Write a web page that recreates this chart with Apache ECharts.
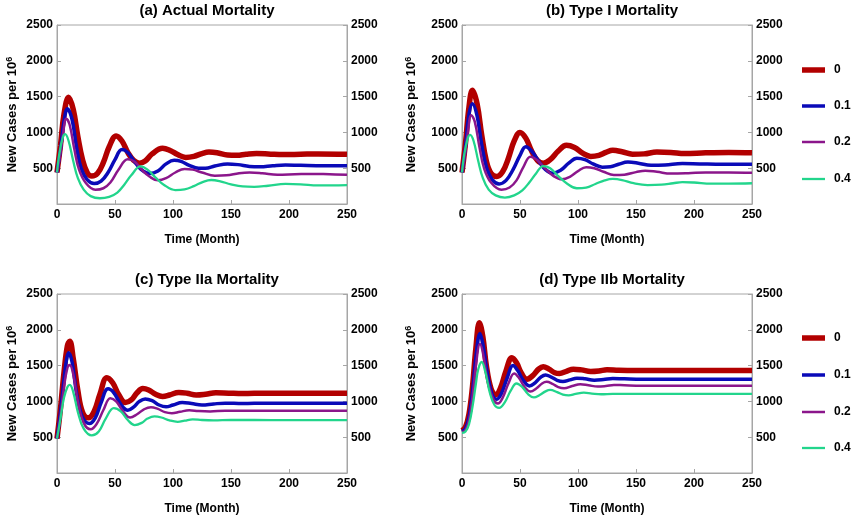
<!DOCTYPE html>
<html>
<head>
<meta charset="utf-8">
<script src="https://cdn.jsdelivr.net/npm/echarts@6/dist/echarts.min.js"></script>
<style>
  html, body { margin: 0; padding: 0; background: #fff; }
  #main { width: 852px; height: 516px; }
</style>
</head>
<body>
<div id="main"></div>
<script>
// series names (mortality fraction) and styles
const names = ['0', '0.1', '0.2', '0.4']
const colors = ['#b20000', '#0a0ab8', '#8b168b', '#22d58c']
const widths = [5.5, 3.5, 2.5, 2.3]
const titles = ['(a) Actual Mortality', '(b) Type I Mortality', '(c) Type IIa Mortality', '(d) Type IIb Mortality']
const xTicks = [0, 50, 100, 150, 200, 250]
const yTicks = [0, 500, 1000, 1500, 2000, 2500]

// (a) actual mortality: [month, new cases per 10^6]
const actual0 = [[0,440],[3,820],[6,1250],[10,1490],[14,1320],[18,940],[22,620],[26,440],[30,390],[35,430],[40,580],[45,800],[51,950],[56,880],[61,720],[66,610],[71,570],[76,600],[82,700],[91,780],[98,745],[104,690],[111,650],[118,665],[125,705],[131,725],[138,715],[147,685],[155,680],[163,695],[172,705],[182,700],[195,690],[210,695],[225,700],[250,695]]
const actual1 = [[0,440],[3,760],[6,1150],[9,1330],[13,1180],[17,780],[21,490],[26,340],[32,285],[38,320],[44,440],[50,620],[56,760],[61,720],[66,610],[72,490],[80,425],[87,460],[94,560],[101,610],[107,595],[114,540],[122,500],[128,500],[136,530],[147,560],[156,550],[166,525],[175,520],[186,535],[197,545],[210,540],[230,535],[250,535]]
const actual2 = [[0,440],[3,720],[5,960],[8,1190],[11,1100],[15,760],[19,480],[25,290],[33,200],[40,220],[46,300],[53,480],[61,625],[67,590],[73,480],[80,380],[87,330],[94,360],[102,440],[110,490],[117,480],[125,440],[136,395],[146,400],[157,430],[166,440],[177,430],[190,410],[205,415],[220,420],[235,415],[250,410]]
const actual4 = [[0,440],[2,700],[5,930],[7,975],[10,880],[14,600],[18,360],[23,200],[29,110],[37,80],[45,100],[52,160],[58,270],[64,400],[72,525],[78,480],[85,370],[92,270],[102,195],[110,205],[118,250],[126,310],[133,335],[140,320],[150,275],[160,245],[170,240],[182,255],[197,280],[210,275],[225,260],[250,265]]

// (b) type I mortality
const typeI0 = [[0,440],[3,850],[6,1350],[9,1590],[13,1400],[17,960],[21,600],[25,430],[30,385],[35,450],[40,640],[45,880],[50,1000],[55,920],[60,740],[65,610],[70,570],[76,620],[83,740],[90,820],[97,790],[104,710],[111,665],[118,680],[124,720],[130,750],[138,730],[147,695],[157,700],[168,725],[180,720],[192,705],[210,715],[230,720],[250,715]]
const typeI1 = [[0,440],[3,800],[6,1250],[9,1400],[13,1230],[17,830],[21,520],[26,340],[32,280],[38,330],[44,480],[50,680],[55,800],[60,740],[66,600],[72,480],[78,430],[85,470],[92,570],[99,640],[106,620],[113,560],[121,515],[128,520],[135,555],[143,585],[152,570],[163,540],[175,545],[190,565],[205,560],[225,555],[250,555]]
const typeI2 = [[0,440],[3,740],[5,1000],[8,1240],[11,1150],[15,800],[19,500],[25,300],[34,200],[41,230],[47,330],[53,520],[59,660],[65,610],[72,490],[79,390],[86,345],[93,380],[100,460],[107,515],[114,500],[122,450],[131,405],[140,410],[150,445],[158,465],[168,450],[180,425],[195,430],[210,440],[230,440],[250,435]]
const typeI4 = [[0,440],[2,700],[5,920],[7,965],[10,880],[14,600],[18,360],[23,200],[29,120],[37,90],[45,120],[52,190],[58,300],[64,430],[70,530],[76,500],[83,390],[91,280],[99,220],[107,230],[115,280],[123,330],[130,350],[138,335],[148,290],[160,265],[172,270],[182,290],[190,305],[200,300],[215,285],[230,285],[250,290]]

// (c) type IIa mortality
const typeIIa0 = [[0,480],[3,900],[6,1400],[9,1780],[11,1840],[14,1600],[18,1150],[22,850],[27,770],[32,860],[37,1100],[43,1330],[48,1260],[53,1100],[59,985],[64,1020],[69,1120],[74,1180],[79,1160],[85,1100],[91,1070],[97,1090],[105,1125],[112,1115],[120,1090],[128,1100],[137,1120],[148,1115],[160,1110],[180,1115],[200,1115],[225,1115],[250,1115]]
const typeIIa1 = [[0,480],[3,850],[6,1300],[8,1560],[10,1680],[13,1550],[17,1100],[22,780],[28,690],[33,770],[38,980],[44,1175],[49,1120],[55,960],[61,875],[66,920],[71,1000],[76,1035],[82,1010],[88,950],[94,925],[100,950],[108,985],[116,970],[125,950],[135,965],[145,975],[160,970],[180,975],[200,975],[225,975],[250,975]]
const typeIIa2 = [[0,480],[3,800],[6,1200],[9,1470],[11,1510],[14,1380],[18,1000],[23,700],[29,610],[34,680],[40,880],[46,1045],[51,1000],[57,860],[63,775],[69,820],[75,890],[81,920],[87,895],[93,850],[99,835],[106,855],[114,875],[122,865],[132,860],[145,870],[160,870],[180,870],[200,868],[225,868],[250,868]]
const typeIIa4 = [[0,480],[3,760],[6,1050],[9,1200],[11,1230],[14,1130],[18,850],[23,620],[30,525],[36,580],[42,760],[49,905],[55,860],[61,740],[67,670],[73,700],[78,760],[84,790],[90,775],[97,735],[104,715],[110,730],[117,750],[125,740],[135,735],[150,740],[170,740],[200,738],[225,738],[250,738]]

// (d) type IIb mortality
const typeIIb0 = [[0,590],[3,640],[6,820],[9,1200],[12,1750],[15,2100],[18,1900],[21,1500],[25,1180],[29,1090],[33,1180],[38,1430],[43,1610],[47,1540],[51,1400],[56,1310],[61,1360],[66,1450],[70,1485],[75,1450],[80,1400],[84,1390],[90,1420],[96,1450],[103,1440],[111,1418],[118,1425],[125,1442],[135,1435],[150,1432],[175,1432],[200,1432],[225,1432],[250,1432]]
const typeIIb1 = [[0,580],[3,620],[6,780],[9,1130],[12,1620],[15.5,1950],[18,1800],[22,1380],[26,1100],[30,1030],[34,1110],[39,1330],[44,1500],[48,1430],[53,1290],[58,1215],[63,1260],[68,1340],[72,1370],[77,1340],[82,1295],[87,1278],[93,1300],[99,1325],[106,1315],[114,1296],[122,1305],[130,1320],[140,1315],[155,1310],[175,1310],[200,1310],[225,1310],[250,1310]]
const typeIIb2 = [[0,570],[3,600],[6,740],[9,1060],[12,1500],[15.5,1800],[18,1680],[22,1300],[27,1030],[31,970],[35,1050],[40,1250],[45,1390],[49,1330],[54,1200],[59,1137],[64,1180],[69,1250],[73,1273],[78,1245],[83,1200],[88,1184],[95,1215],[102,1240],[109,1225],[117,1207],[124,1215],[131,1230],[140,1225],[155,1220],[175,1220],[200,1220],[225,1220],[250,1220]]
const typeIIb4 = [[0,560],[3,580],[6,680],[9,920],[12,1250],[14,1450],[17,1550],[20,1420],[24,1120],[28,950],[32,910],[37,990],[42,1150],[47,1250],[52,1200],[57,1100],[62,1055],[67,1090],[72,1140],[76,1160],[82,1130],[87,1095],[92,1085],[98,1105],[105,1123],[112,1110],[120,1100],[130,1105],[145,1105],[170,1105],[200,1105],[225,1105],[250,1105]]

const panels = [
  [actual0, actual1, actual2, actual4],
  [typeI0, typeI1, typeI2, typeI4],
  [typeIIa0, typeIIa1, typeIIa2, typeIIa4],
  [typeIIb0, typeIIb1, typeIIb2, typeIIb4]
]

const font = 'Liberation Sans, Arial, sans-serif'
const frame = '#a6a6a6'
// grid boxes: left, top
const boxes = [[57, 25], [462, 25], [57, 294], [462, 294]]
const W = 290, H = 179

const grids = [], xAxes = [], yAxes = [], series = [], titleList = []

boxes.forEach(([l, t], i) => {
  grids.push({ left: l, top: t, width: W, height: H, show: true, borderColor: frame, borderWidth: 1 })
  titleList.push({
    text: titles[i], left: l + W / 2, top: t - 27, textAlign: 'center',
    textStyle: { fontFamily: font, fontWeight: 'bold', fontSize: 15, color: '#000' }
  })
  xAxes.push({
    type: 'value', gridIndex: i, min: xTicks[0], max: xTicks[xTicks.length - 1], interval: 50,
    name: 'Time (Month)', nameLocation: 'middle', nameGap: 30,
    nameTextStyle: { fontFamily: font, fontWeight: 'bold', fontSize: 12, color: '#000' },
    axisLine: { lineStyle: { color: frame } },
    axisTick: { inside: true, length: 4, lineStyle: { color: frame } },
    axisLabel: { fontFamily: font, fontWeight: 'bold', fontSize: 12, color: '#000', margin: 5 },
    splitLine: { show: false }
  })
  const yBase = {
    type: 'value', gridIndex: i, min: yTicks[0], max: yTicks[yTicks.length - 1], interval: 500,
    axisLine: { show: true, lineStyle: { color: frame } },
    axisTick: { show: true, inside: true, length: 4, lineStyle: { color: frame } },
    axisLabel: {
      fontFamily: font, fontWeight: 'bold', fontSize: 12, color: '#000', margin: 4,
      formatter: v => (v === 0 ? '' : String(v))
    },
    splitLine: { show: false }
  }
  yAxes.push(Object.assign({}, yBase, {
    position: 'left',
    name: 'New Cases per 10{sup|6}', nameLocation: 'middle', nameGap: i % 2 === 0 ? 38 : 44,
    nameTextStyle: {
      fontFamily: font, fontWeight: 'bold', fontSize: 13, color: '#000',
      rich: { sup: { fontFamily: font, fontWeight: 'bold', fontSize: 9, color: '#000', verticalAlign: 'top', padding: [0, 0, 5, 0] } }
    }
  }))
  yAxes.push(Object.assign({}, yBase, { position: 'right' }))
  panels[i].forEach((d, k) => {
    series.push({
      type: 'line', name: names[k], xAxisIndex: i, yAxisIndex: i * 2,
      data: d, smooth: 0.4, showSymbol: false, color: colors[k],
      lineStyle: { width: widths[k], color: colors[k] },
      z: 2 + k
    })
  })
})

// legends on the right, one per entry so each line has its own weight
const legendTops = [[71, 107, 143, 180], [339, 376, 413, 449]]
const legends = []
legendTops.forEach(row => {
  row.forEach((c, k) => {
    legends.push({
      data: [names[k]], left: 802, top: c - 7, padding: 0, icon: 'rect',
      itemWidth: 23, itemHeight: widths[k], selectedMode: false,
      textStyle: { fontFamily: font, fontWeight: 'bold', fontSize: 12, color: '#000', padding: [0, 0, 0, 4] }
    })
  })
})

const myChart = echarts.init(document.getElementById('main'))
myChart.setOption({
  animation: false,
  backgroundColor: '#fff',
  title: titleList,
  legend: legends,
  grid: grids,
  xAxis: xAxes,
  yAxis: yAxes,
  series: series
})
</script>
</body>
</html>
